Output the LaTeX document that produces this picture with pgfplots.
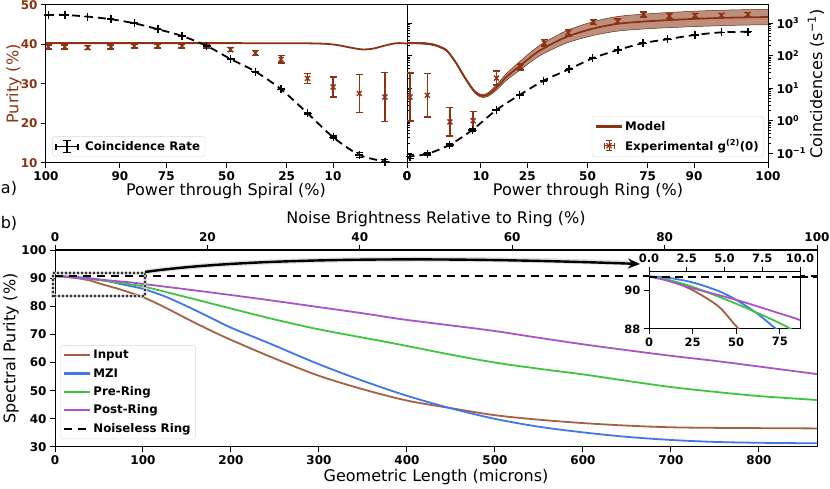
\documentclass[border=0pt]{standalone}
\usepackage{fontspec}
\setmainfont{DejaVu Sans}
\usepackage{pgfplots}
\pgfplotsset{compat=1.18}
\usetikzlibrary{arrows.meta}
\definecolor{brn}{RGB}{139,51,19}
\definecolor{cin}{RGB}{166,96,70}
\definecolor{cmz}{RGB}{64,118,232}
\definecolor{cpr}{RGB}{62,196,62}
\definecolor{cpo}{RGB}{168,84,200}
\newcommand{\tkf}{\fontsize{12}{14}\selectfont\bfseries}
\newcommand{\insf}{\fontsize{11.5}{13}\selectfont\bfseries}
\newcommand{\lbf}{\fontsize{16}{19}\selectfont}
\newcommand{\lgf}{\fontsize{11.8}{14}\selectfont\bfseries}
\tikzset{dshline/.style={black, line width=1.8pt, dash pattern=on 8pt off 5pt}}
\pgfplotsset{
 base/.style={scale only axis, tick align=outside, major tick length=5pt, minor tick length=3pt,
   tick style={black,line width=1pt}, axis line style={line width=1pt},
   ticklabel style={font=\tkf}, /pgf/number format/assume math mode=true,
   legend style={font=\lgf, draw=black!15, rounded corners=3pt, fill=white, inner sep=3pt, row sep=4pt},
   legend cell align=left},
 topax/.style={base, width=361pt, height=158pt, xmin=0, xmax=90},
 purpts/.style={brn, only marks, mark=x, mark size=3.5pt, mark options={line width=1.4pt},
   error bars/y dir=both, error bars/y explicit, error bars/error bar style={line width=1.4pt, brn},
   error bars/error mark options={brn, line width=1.4pt, mark size=3.5pt, rotate=90}},
 coipts/.style={black, only marks, mark=+, mark size=4pt, mark options={line width=1.3pt},
   error bars/y dir=both, error bars/y explicit, error bars/error bar style={line width=1.2pt, black},
   error bars/error mark options={black, line width=1.2pt, mark size=3.5pt, rotate=90}},
 lineleg/.style={legend image code/.code={\draw[##1, line width=2.2pt] (0pt,0pt)--(26pt,0pt);}},
 coileg/.style={legend image code/.code={
   \draw[black,line width=1.2pt] (0pt,0pt)--(22pt,0pt) (0pt,-3pt)--(0pt,3pt) (22pt,-3pt)--(22pt,3pt)
     (11pt,-6pt)--(11pt,6pt) (7pt,6pt)--(15pt,6pt) (7pt,-6pt)--(15pt,-6pt);
   \path (27pt,0pt);}},
 expleg/.style={legend image code/.code={
   \draw[brn,line width=1.1pt] (13pt,-5pt)--(13pt,5pt) (10pt,5pt)--(16pt,5pt) (10pt,-5pt)--(16pt,-5pt)
     (8pt,0pt)--(18pt,0pt) (8pt,-3pt)--(8pt,3pt) (18pt,-3pt)--(18pt,3pt);
   \draw[brn,line width=1.3pt] (10.5pt,-2.5pt)--(15.5pt,2.5pt) (10.5pt,2.5pt)--(15.5pt,-2.5pt);
   \path (0pt,0pt) (26pt,0pt);}},
}
\begin{document}
\begin{tikzpicture}
\path[use as bounding box] (0pt,0pt) rectangle (830pt,489pt);

% ---------------- top-left: purity
\begin{axis}[topax, at={(46pt,326pt)}, anchor=south west, ymin=10, ymax=50,
  xtick={0,18.435,30,45,60,71.565,90}, xticklabels={100,90,75,50,25,10,0},
  ytick={10,20,30,40,50}, yticklabel style={text=brn},
  xtick pos=bottom, ytick pos=left]
\addplot[brn, line width=1.8pt, smooth] coordinates {(0,40.35)(20,40.35)(40,40.35)(55,40.33)(65,40.3)(70,40.15)(73,39.8)(76,39.2)(78.9,38.75)(81.5,38.95)(84,39.6)(86.5,40.2)(88,40.35)(90,40.25)};
\addplot[purpts] coordinates {
(0.58,39.4) +- (0,0.5)
(4.7,39.4) +- (0,0.5)
(10.4,39.2) +- (0,0.5)
(16.2,39.4) +- (0,0.5)
(22.0,39.6) +- (0,0.5)
(27.9,39.6) +- (0,0.5)
(33.9,39.6) +- (0,0.5)
(40.1,39.6) +- (0,0.5)
(46.0,38.7) +- (0,0.5)
(52.2,37.85) +- (0,0.67)
(58.6,36.25) +- (0,0.97)
(65.2,31.4) +- (0,1.2)
(71.6,29.25) +- (0,2.5)
(78.1,27.6) +- (0,4.8)
(84.5,26.7) +- (0,6.2)};
\end{axis}
% ---------------- top-left: coincidences (log)
\begin{axis}[topax, at={(46pt,326pt)}, anchor=south west, ymode=log, ymin=0.05, ymax=3650,
  hide x axis, axis y line*=right, ytick={0.1,1,10,100,1000}, yticklabels={},
  legend style={at={(0.017,0.038)}, anchor=south west}]
\addplot[dshline, smooth, forget plot] coordinates {(0,1810)(0.58,1803)(4.7,1800)(10.4,1600)(16.2,1330)(22.0,1000)(27.9,655)(33.9,407)(40.1,200)(46.0,79.4)(52.2,32.6)(58.6,9.31)(65.2,1.70)(71.6,0.31)(78.1,0.089)(84.5,0.055)(87,0.048)};
\addplot[coipts, coileg] coordinates {
(0.58,1803) +- (0,20)
(4.7,1803) +- (0,20)
(10.4,1600) +- (0,20)
(16.2,1330) +- (0,20)
(22.0,1000) +- (0,15)
(27.9,655) +- (0,10)
(33.9,407) +- (0,8)
(40.1,200) +- (0,5)
(46.0,79.4) +- (0,3)
(52.2,32.6) +- (0,1)
(58.6,9.31) +- (0,0.4)
(65.2,1.70) +- (0,0.1)
(71.6,0.31) +- (0,0.03)
(78.1,0.089) +- (0,0.015)
(84.5,0.055) +- (0,0.01)};
\addlegendentry{Coincidence Rate}
\end{axis}

% ---------------- top-right: purity
\begin{axis}[topax, at={(407pt,326pt)}, anchor=south west, ymin=10, ymax=50,
  xtick={0,18.435,30,45,60,71.565,90}, xticklabels={0,10,25,50,75,90,100},
  ytick=\empty, xtick pos=bottom, lineleg,
  legend style={at={(0.989,0.038)}, anchor=south east}]
\addplot[fill=brn!55, draw=brn!80!black, line width=0.5pt, smooth, forget plot] coordinates {(0,40.58)(4,40.5)(6.55,40.16)(8.2,39.6)(9.86,38.73)(11.1,37.22)(12.35,35.4)(13.6,33.26)(14.84,31.23)(16.9,28.3)(18.6,27.34)(20.2,27.78)(22.3,29.75)(24.8,32.65)(28.1,35.67)(31.4,38.51)(33.9,40.3)(39.7,43.45)(46.3,45.75)(53,47.15)(62,47.9)(72,48.45)(81,48.75)(90,48.9)(92,48.9)(92,45.0)
(90,45.0)(81,44.85)(72,44.55)(62,44.1)(53,43.45)(46.3,42.25)(39.7,40.35)(33.9,37.6)(31.4,36.01)(28.1,33.47)(24.8,30.95)(22.3,28.45)(20.2,26.88)(18.6,26.64)(16.9,27.7)(14.84,30.67)(13.6,32.74)(12.35,34.92)(11.1,36.78)(9.86,38.33)(8.2,39.2)(6.55,39.76)(4,40.1)(0,40.18)(-2,40.18)(-2,40.58)} -- cycle;
\addplot[brn, line width=1.8pt, smooth] coordinates {(0,40.38)(4,40.3)(6.55,39.96)(8.2,39.4)(9.86,38.53)(11.1,37.0)(12.35,35.16)(13.6,33.0)(14.84,30.95)(16.9,28.0)(18.6,26.99)(20.2,27.33)(22.3,29.1)(24.8,31.8)(28.1,34.57)(31.4,37.26)(33.9,38.95)(39.7,41.9)(46.3,44.0)(53,45.3)(62,46.0)(72,46.5)(81,46.8)(90,46.95)};
\addlegendentry{Model}
\addplot[purpts, expleg]
 coordinates {
(0.75,26.7) +- (0,6.07)
(5.05,27.15) +- (0,5.5)
(10.7,20.4) +- (0,3.6)
(16.5,20.7) +- (0,2.4)
(22.3,31.5) +- (0,1.8)
(28.3,34.3) +- (0,0.76)
(34.2,40.4) +- (0,0.8)
(40.2,43.0) +- (0,0.8)
(46.4,45.7) +- (0,0.7)
(52.5,45.9) +- (0,0.6)
(59,47.6) +- (0,0.6)
(65.4,47.2) +- (0,0.6)
(71.8,47.4) +- (0,0.5)
(78.4,47.4) +- (0,0.5)
(85,47.6) +- (0,0.5)};
\addlegendentry{Experimental g\textsuperscript{(2)}(0)}
\end{axis}
% ---------------- top-right: coincidences (log)
\begin{axis}[topax, at={(407pt,326pt)}, anchor=south west, ymode=log, ymin=0.05, ymax=3650,
  hide x axis, axis y line*=right, ytick={0.1,1,10,100,1000},
  yticklabels={10\textsuperscript{−1},10\textsuperscript{0},10\textsuperscript{1},10\textsuperscript{2},10\textsuperscript{3}}]
\addplot[dshline, smooth] coordinates {(0,0.070)(0.75,0.079)(5.05,0.0955)(10.6,0.18)(16.3,0.522)(22.3,2.15)(28.1,6.24)(34.1,17.2)(40.4,38.5)(46.3,83.8)(52.6,151)(58.8,243)(65,324)(71.8,437)(78.4,525)(85,550)};
\addplot[coipts] coordinates {
(0.75,0.079) +- (0,0.012)
(5.05,0.0955) +- (0,0.012)
(10.6,0.18) +- (0,0.02)
(16.3,0.522) +- (0,0.04)
(22.3,2.15) +- (0,0.1)
(28.1,6.24) +- (0,0.2)
(34.1,17.2) +- (0,0.5)
(40.4,38.5) +- (0,1)
(46.3,83.8) +- (0,2)
(52.6,151) +- (0,3)
(58.8,243) +- (0,4)
(65,324) +- (0,5)
(71.8,437) +- (0,6)
(78.4,525) +- (0,7)
(85,550) +- (0,8)};
\end{axis}

% ---------------- bottom main
\begin{axis}[base, at={(55pt,42pt)}, anchor=south west, width=762pt, height=197pt,
  xmin=0, xmax=866, ymin=30, ymax=100, xtick={0,100,...,800}, ytick={30,40,...,100},
  xtick pos=bottom, ytick pos=left, lineleg,
  legend style={at={(0.0066,0.04)}, anchor=south west}]
\addplot[cin, line width=1.8pt, smooth] coordinates {(0,90.7)(10,90.55)(25,90.0)(40,89.15)(51.5,88.0)(75,85.9)(101,83.1)(125,79.6)(151,75.4)(175,71.7)(199,68.2)(250,61.4)(300,55.3)(350,50.5)(400,46.5)(448,43.9)(500,41.3)(550,39.7)(600,38.5)(650,37.6)(700,37.0)(750,36.8)(800,36.7)(866,36.6)};
\addlegendentry{Input}
\addplot[cmz, line width=1.8pt, smooth] coordinates {(0,90.7)(10,90.65)(25,90.4)(40,89.95)(50,89.5)(62,88.8)(73,88.0)(87,87.1)(101,86.1)(125,83.5)(150,80.0)(181,75.3)(200,72.4)(233,68.2)(250,66.0)(300,59.4)(350,53.5)(400,48.2)(448,43.9)(500,40.0)(550,37.2)(600,35.2)(650,33.6)(700,32.5)(750,31.8)(800,31.5)(866,31.3)};
\addlegendentry{MZI}
\addplot[cpr, line width=1.8pt, smooth] coordinates {(0,90.7)(10,90.55)(25,90.17)(50,89.3)(75,88.3)(87,87.7)(101,87.0)(150,83.2)(200,79.2)(250,75.3)(300,71.8)(365,68.0)(400,65.9)(450,62.8)(500,60.0)(550,57.8)(600,55.8)(650,53.5)(700,51.3)(750,49.6)(800,48.1)(866,46.7)};
\addlegendentry{Pre-Ring}
\addplot[cpo, line width=1.8pt, smooth] coordinates {(0,90.7)(10,90.5)(25,90.1)(50,89.5)(75,88.8)(87,88.45)(101,87.9)(150,86.0)(200,84.0)(250,81.9)(300,79.7)(350,77.5)(394,75.4)(450,73.2)(500,71.2)(550,68.8)(600,66.5)(650,64.4)(700,62.4)(750,60.6)(800,58.6)(866,55.9)};
\addlegendentry{Post-Ring}
\addplot[black, line width=1.8pt, dash pattern=on 8pt off 6pt] coordinates {(0,90.7)(866,90.7)};
\addlegendentry{Noiseless Ring}
\end{axis}
% ---------------- bottom top axis
\begin{axis}[base, at={(55pt,42pt)}, anchor=south west, width=762pt, height=197pt,
  xmin=0, xmax=100, ymin=0, ymax=1, axis x line*=top, hide y axis, xtick={0,20,...,100}]
\end{axis}

% dotted box and arrow
\draw[gray!40, line width=4pt, dash pattern=on 0pt off 4pt, line cap=round] (53pt,193pt) rectangle (145pt,216pt);
\draw[black, line width=2.4pt, dash pattern=on 0pt off 4pt, line cap=round] (53pt,193pt) rectangle (145pt,216pt);
\draw[gray!40, line width=5pt, opacity=0.6] (145pt,217pt) .. controls (250pt,232pt) and (450pt,232pt) .. (628pt,226pt);
\draw[black, line width=2.4pt, -{Stealth[length=12pt,width=10pt]}] (145pt,217pt) .. controls (250pt,232pt) and (450pt,232pt) .. (640pt,225pt);

% ---------------- inset
\begin{axis}[base, at={(649pt,160pt)}, anchor=south west, width=151pt, height=57.3pt,
  xmin=0, xmax=86.6, ymin=88, ymax=90.95, xtick={0,25,50,75}, ytick={88,90},
  xtick pos=bottom, ytick pos=left, axis background/.style={fill=white},
  ticklabel style={font=\insf}]
\addplot[cin, line width=1.8pt, smooth] coordinates {(0,90.7)(10,90.55)(25,90.0)(40,89.15)(51.5,88.0)(75,85.9)(101,83.1)};
\addplot[cmz, line width=1.8pt, smooth] coordinates {(0,90.7)(10,90.65)(25,90.4)(40,89.95)(50,89.5)(62,88.8)(73,88.0)(87,87.1)(101,86.1)};
\addplot[cpr, line width=1.8pt, smooth] coordinates {(0,90.7)(10,90.55)(25,90.17)(50,89.3)(75,88.3)(87,87.7)(101,87.0)};
\addplot[cpo, line width=1.8pt, smooth] coordinates {(0,90.7)(10,90.5)(25,90.1)(50,89.5)(75,88.8)(87,88.45)(101,87.9)};
\addplot[dshline] coordinates {(0,90.68)(86.6,90.68)};
\end{axis}
\begin{axis}[base, at={(649pt,160pt)}, anchor=south west, width=151pt, height=57.3pt,
  xmin=0, xmax=10, ymin=0, ymax=1, axis x line*=top, hide y axis, xtick={0,2.5,5,7.5,10},
  ticklabel style={font=\insf},
  /pgf/number format/fixed, /pgf/number format/fixed zerofill, /pgf/number format/precision=1]
\end{axis}
\draw[dshline] (800pt,212.3pt) -- (817pt,212.3pt);

% ---------------- labels
\node[font=\lbf, text=brn, rotate=90] at (14pt,405pt) {Purity (\%)};
\node[font=\lbf, rotate=90] at (816pt,405pt) {Coincidences (s\textsuperscript{−1})};
\node[font=\lbf] at (226pt,298pt) {Power through Spiral (\%)};
\node[font=\lbf] at (588pt,298pt) {Power through Ring (\%)};
\node[font=\lbf] at (9pt,301pt) {a)};
\node[font=\lbf] at (9pt,266pt) {b)};
\node[font=\lbf] at (436pt,270pt) {Noise Brightness Relative to Ring (\%)};
\node[font=\lbf, rotate=90] at (11pt,140.5pt) {Spectral Purity (\%)};
\node[font=\lbf] at (436pt,12pt) {Geometric Length (microns)};
\end{tikzpicture}
\end{document}
